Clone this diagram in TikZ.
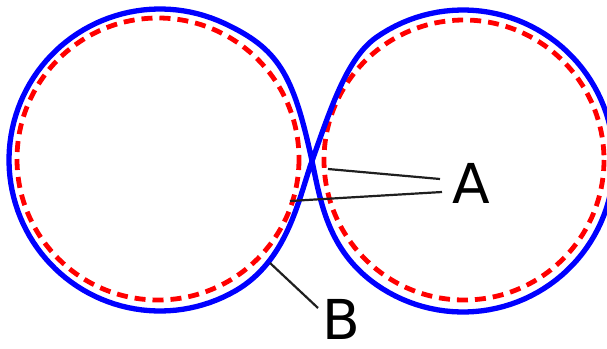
\documentclass[tikz,border=0pt]{standalone}
\usepackage{fontspec}
\setmainfont{DejaVu Sans}
\begin{document}
\begin{tikzpicture}[x=1pt,y=-1pt,
  bluecurve/.style={draw=blue,line width=5.3pt,line join=round},
  reddash/.style={draw=red,line width=4.8pt,dash pattern=on 11pt off 7pt},
  leader/.style={draw=black!88,line width=2.2pt},
  lbl/.style={inner sep=0pt,font=\fontsize{55}{60}\selectfont}]
\useasboundingbox (0,0) rectangle (607,348);
% red dashed circles
\draw[reddash] (158,159) circle[radius=141];
\draw[reddash] (464,160) circle[radius=140];
% blue figure-eight
\coordinate (X) at (312,161);
\draw[bluecurve]
  plot[domain=-65:-300, samples=90] ({160+151*cos(\x)},{160+151*sin(\x)})
  .. controls (287.5,260.8) and (298.6,198.7) .. (X)
  .. controls (332,104.5) and (347.7,57.4) .. (376.4,37.3)
  -- plot[domain=235:485, samples=90] ({463+151*cos(\x)},{161+151*sin(\x)})
  .. controls (327.3,250.3) and (320.4,200.1) .. (X)
  .. controls (293.1,73) and (278.2,48.6) .. (223.8,23.1)
  -- cycle;
% labels
\node[lbl] (A) at (471,183) {A};
\node[lbl] (B) at (341,319) {B};
\coordinate (a1) at (328,169);
\coordinate (a2) at (290,201);
\coordinate (a1e) at (440,179);
\coordinate (a2e) at (442,192);
\coordinate (b1) at (270,263);
\coordinate (b1e) at (318,308);
\draw[leader] (a1) -- (a1e);
\draw[leader] (a2) -- (a2e);
\draw[leader] (b1) -- (b1e);
\end{tikzpicture}
\end{document}
